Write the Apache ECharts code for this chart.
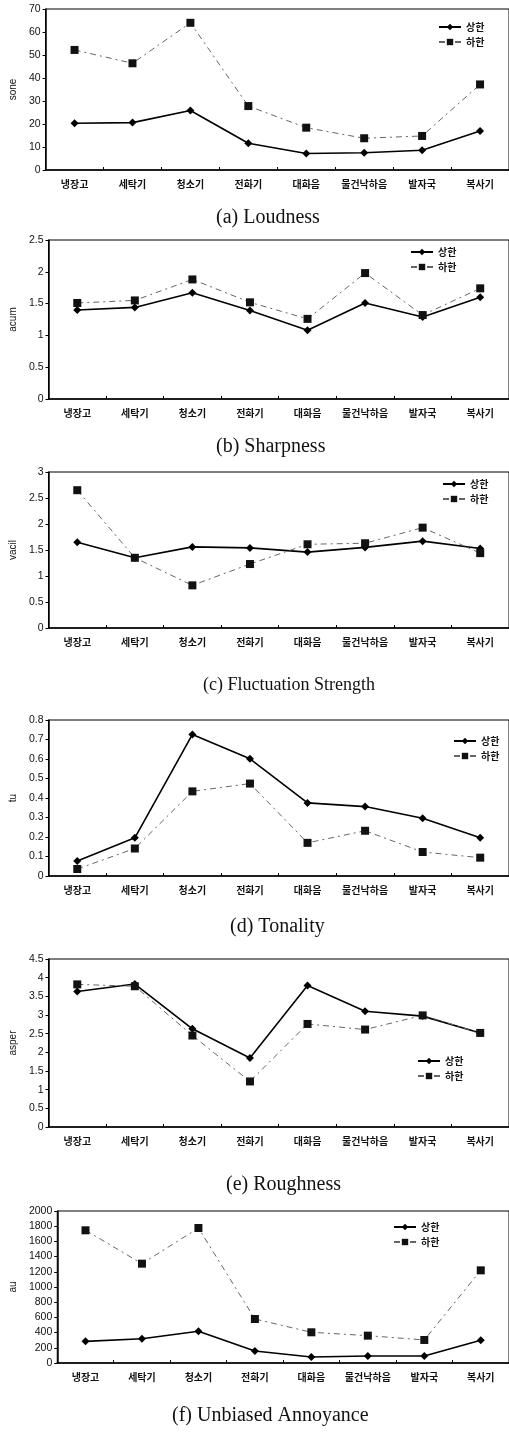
<!DOCTYPE html>
<html><head><meta charset="utf-8">
<script src="https://cdn.jsdelivr.net/npm/echarts@6/dist/echarts.min.js"></script>
<style>html,body{margin:0;padding:0;background:#fff}#c{width:509px;height:1433px}</style>
</head><body><div id="c"></div>
<script>
const categories = ['냉장고','세탁기','청소기','전화기','대화음','물건낙하음','발자국','복사기'];
const seriesNames = ['상한','하한'];

const loudnessUpper = [20.3, 20.6, 25.9, 11.6, 7.2, 7.5, 8.6, 17.0];
const loudnessLower = [52.2, 46.4, 64.0, 27.8, 18.4, 13.8, 14.8, 37.2];
const sharpnessUpper = [1.40, 1.44, 1.67, 1.39, 1.08, 1.51, 1.29, 1.60];
const sharpnessLower = [1.51, 1.55, 1.88, 1.52, 1.26, 1.98, 1.32, 1.74];
const fluctUpper = [1.65, 1.35, 1.56, 1.54, 1.46, 1.55, 1.67, 1.53];
const fluctLower = [2.65, 1.35, 0.82, 1.23, 1.61, 1.63, 1.93, 1.44];
const tonalityUpper = [0.077, 0.196, 0.726, 0.601, 0.375, 0.356, 0.296, 0.196];
const tonalityLower = [0.036, 0.141, 0.434, 0.474, 0.170, 0.232, 0.123, 0.094];
const roughUpper = [3.63, 3.83, 2.63, 1.85, 3.79, 3.10, 2.97, 2.52];
const roughLower = [3.82, 3.77, 2.45, 1.22, 2.76, 2.61, 2.99, 2.52];
const annoyUpper = [285, 320, 417, 158, 79, 92, 92, 298];
const annoyLower = [1746, 1307, 1776, 579, 404, 360, 303, 1219];

const titles = ['(a) Loudness','(b) Sharpness','(c) Fluctuation Strength','(d) Tonality','(e) Roughness','(f) Unbiased Annoyance'];
const yNames = ['sone','acum','vacil','tu','asper','au'];
const yMax = [70, 2.5, 3, 0.8, 4.5, 2000];
const yStep = [10, 0.5, 0.5, 0.1, 0.5, 200];
const upperData = [loudnessUpper, sharpnessUpper, fluctUpper, tonalityUpper, roughUpper, annoyUpper];
const lowerData = [loudnessLower, sharpnessLower, fluctLower, tonalityLower, roughLower, annoyLower];

// layout (pixels)
const gridBox = [
  {left:40, top:9,   width:469, height:161},
  {left:47, top:240, width:469, height:159},
  {left:47, top:472, width:462, height:156},
  {left:43, top:720, width:471, height:156},
  {left:43, top:959, width:472, height:168},
  {left:49, top:1211,width:464, height:152}
];
const nameGaps = [26, 28, 28, 29, 29, 35];
const titleTops = [208, 437, 676, 917, 1175, 1406];
const titleLefts = [216, 216, 203, 230, 226, 172];
const titleSizes = [20, 20, 18, 20, 20, 20];
const legendPos = [
  {left:438, top:22}, {left:410, top:247}, {left:442, top:479},
  {left:453, top:736}, {left:417, top:1056}, {left:393, top:1222}
];

const grid = [], xAxis = [], yAxis = [], series = [], title = [], legend = [];
for (let i = 0; i < 6; i++) {
  grid.push(Object.assign({show:true, borderColor:'#000', borderWidth:1, containLabel:false}, gridBox[i]));
  xAxis.push({
    type:'category', gridIndex:i, data:categories, boundaryGap:true,
    axisLine:{lineStyle:{color:'#000', width:1.5}},
    axisTick:{show:true, inside:true, length:3, lineStyle:{color:'#000'}},
    axisLabel:{color:'#111', fontSize:10, fontWeight:'bold', fontFamily:'Noto Sans CJK KR', margin:9, interval:0},
    splitLine:{show:false}
  });
  yAxis.push({
    type:'value', gridIndex:i, min:0, max:yMax[i], interval:yStep[i],
    name:yNames[i], nameLocation:'middle', nameGap:nameGaps[i],
    nameTextStyle:{color:'#111', fontSize:10, fontFamily:'Liberation Sans'},
    axisLine:{show:true, lineStyle:{color:'#000', width:1.5}},
    axisTick:{show:true, length:3, lineStyle:{color:'#000'}},
    axisLabel:{color:'#111', fontSize:10.5, fontFamily:'Liberation Sans', margin:5,
      formatter: v => String(+Number(v).toFixed(6))},
    splitLine:{show:false}
  });
  series.push({
    name:seriesNames[0], type:'line', xAxisIndex:i, yAxisIndex:i, data:upperData[i],
    symbol:'diamond', symbolSize:8, itemStyle:{color:'#000'},
    lineStyle:{color:'#000', width:1.6}, animation:false
  });
  series.push({
    name:seriesNames[1], type:'line', xAxisIndex:i, yAxisIndex:i, data:lowerData[i],
    symbol:'rect', symbolSize:8, itemStyle:{color:'#111'},
    lineStyle:{color:'#666', width:1, type:[6,4,2,4]}, animation:false
  });
  title.push({
    text:titles[i], left:titleLefts[i], top:titleTops[i], padding:0,
    textStyle:{fontFamily:'Liberation Serif', fontSize:titleSizes[i], fontWeight:'normal', color:'#111'}
  });
  legend.push(Object.assign({
    data:seriesNames, orient:'vertical', itemWidth:22, itemHeight:8, itemGap:5, padding:0,
    textStyle:{fontSize:10, fontWeight:'bold', fontFamily:'Noto Sans CJK KR', color:'#111'},
    selectedMode:false
  }, legendPos[i]));
}

const chart = echarts.init(document.getElementById('c'), null, {renderer:'canvas'});
chart.setOption({backgroundColor:'#fff', animation:false, grid, xAxis, yAxis, series, title, legend});
</script>
</body></html>
